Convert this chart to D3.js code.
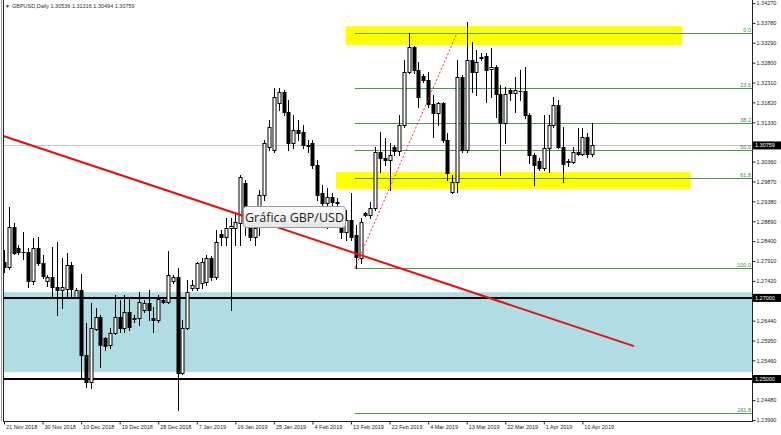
<!DOCTYPE html>
<html><head><meta charset="utf-8">
<script src="https://cdn.jsdelivr.net/npm/d3@7"></script>
<style>body{margin:0;background:#fff}svg{display:block}</style>
</head><body>
<script>
// ---------- DATA ----------
const opens = [1.2788,1.2776,1.2875,1.2823,1.2813,1.2812,1.2742,1.2823,1.2786,1.2742,
1.2752,1.2727,1.2719,1.2722,1.2781,1.2702,1.2719,1.2559,1.2493,1.2623,
1.2653,1.2601,1.2584,1.2613,1.2653,1.2626,1.2665,1.2650,1.2650,1.2670,
1.2687,1.2650,1.2645,1.2695,1.2690,1.2742,1.2752,1.2515,1.2626,1.2724,
1.2724,1.2737,1.2739,1.2798,1.2751,1.2857,1.2850,1.2872,1.2872,1.2885,
1.2983,1.2875,1.2850,1.2875,1.2954,1.3072,1.3065,1.3181,1.3208,1.3158,
1.3082,1.3114,1.3109,1.3077,1.3082,1.3028,1.2959,1.2934,1.2949,1.2936,
1.2897,1.2862,1.2892,1.2855,1.2798,1.2909,1.2904,1.2922,1.3060,1.3045,
1.3040,1.3072,1.3062,1.3126,1.3257,1.3319,1.3262,1.3247,1.3237,1.3178,
1.3156,1.3181,1.3089,1.2961,1.2986,1.3245,1.3065,1.3287,1.3257,1.3294,
1.3296,1.3264,1.3269,1.3203,1.3131,1.3212,1.3205,1.3210,1.3210,1.3151,
1.3052,1.3038,1.3020,1.3070,1.3126,1.3176,1.3072,1.3035,1.3035,1.3060,
1.3055,1.3097,1.30536];
const highs = [1.2818,1.2924,1.2885,1.2830,1.2862,1.2823,1.2848,1.2850,1.2806,1.2756,
1.2825,1.2838,1.2798,1.2811,1.2788,1.2724,1.2759,1.2638,1.2687,1.2675,
1.2658,1.2604,1.2626,1.2707,1.2695,1.2707,1.2700,1.2658,1.2715,1.2695,
1.2719,1.2678,1.2707,1.2700,1.2816,1.2756,1.2774,1.2645,1.2744,1.2744,
1.2788,1.2798,1.2806,1.2803,1.2867,1.2867,1.2897,1.2897,1.2912,1.3003,
1.2991,1.2904,1.2880,1.2966,1.3089,1.3139,1.3217,1.3217,1.3212,1.3188,
1.3151,1.3139,1.3126,1.3089,1.3089,1.3040,1.2978,1.2971,1.2959,1.2946,
1.2912,1.2917,1.2959,1.2880,1.2897,1.2912,1.2936,1.3072,1.3109,1.3094,
1.3082,1.3077,1.3151,1.3287,1.3353,1.3322,1.3282,1.3252,1.3257,1.3200,
1.3183,1.3183,1.3107,1.3003,1.3287,1.3250,1.3380,1.3331,1.3311,1.3304,
1.3304,1.3316,1.3274,1.3225,1.3220,1.3217,1.3245,1.3262,1.3269,1.3156,
1.3057,1.3045,1.3151,1.3151,1.3195,1.3188,1.3121,1.3042,1.3072,1.3119,
1.3119,1.3107,1.31316];
const lows = [1.2764,1.2771,1.2808,1.2808,1.2796,1.2727,1.2734,1.2781,1.2749,1.2729,
1.2700,1.2658,1.2675,1.2702,1.2702,1.2700,1.2505,1.2480,1.2478,1.2621,
1.2530,1.2572,1.2576,1.2611,1.2616,1.2616,1.2621,1.2641,1.2633,1.2665,
1.2645,1.2616,1.2641,1.2687,1.2687,1.2737,1.2424,1.2512,1.2623,1.2719,
1.2719,1.2724,1.2732,1.2744,1.2747,1.2830,1.2830,1.2670,1.2830,1.2830,
1.2855,1.2843,1.2830,1.2855,1.2941,1.3065,1.3060,1.3163,1.3151,1.3065,
1.3070,1.3089,1.3070,1.3060,1.3020,1.2941,1.2929,1.2872,1.2929,1.2926,
1.2848,1.2843,1.2843,1.2774,1.2786,1.2902,1.2897,1.2917,1.3010,1.3028,
1.2966,1.3052,1.3052,1.3121,1.3255,1.3255,1.3171,1.3232,1.3171,1.3097,
1.3126,1.3084,1.2991,1.2959,1.2961,1.3060,1.3060,1.3208,1.3200,1.3287,
1.3183,1.3195,1.3146,1.3003,1.3082,1.3188,1.3158,1.3188,1.3144,1.3033,
1.2978,1.3015,1.3015,1.3010,1.3121,1.3070,1.2986,1.3025,1.3033,1.3052,
1.3052,1.3047,1.30494];
const closes = [1.2776,1.2875,1.2811,1.2813,1.2812,1.2742,1.2823,1.2786,1.2754,1.2752,
1.2727,1.2719,1.2727,1.2781,1.2722,1.2719,1.2559,1.2493,1.2626,1.2653,
1.2584,1.2581,1.2613,1.2653,1.2626,1.2665,1.2628,1.2649,1.2690,1.2687,
1.2670,1.2645,1.2697,1.2690,1.2756,1.2752,1.2515,1.2626,1.2715,1.2732,
1.2786,1.2788,1.2798,1.2751,1.2838,1.2850,1.2872,1.2877,1.2887,1.2998,
1.2909,1.2850,1.2872,1.2954,1.3082,1.3121,1.3195,1.3208,1.3158,1.3082,
1.3114,1.3107,1.3077,1.3074,1.3028,1.2954,1.2934,1.2949,1.2936,1.2934,
1.2862,1.2892,1.2850,1.2801,1.2887,1.2904,1.2922,1.3060,1.3045,1.3040,
1.3052,1.3062,1.3126,1.3257,1.3319,1.3262,1.3195,1.3237,1.3178,1.3156,
1.3181,1.3089,1.3008,1.2986,1.3245,1.3065,1.3287,1.3257,1.3282,1.3292,
1.3262,1.3269,1.3203,1.3131,1.3203,1.3205,1.3212,1.3209,1.3151,1.3052,
1.3028,1.3020,1.3070,1.3126,1.3176,1.3072,1.3030,1.3038,1.3060,1.3055,
1.3097,1.3055,1.30759];

const dateTickBars = [0,8,16,24,32,40,48,56,64,72,80,88,96,104,112,120];
const dateTickLabels = ["21 Nov 2018","30 Nov 2018","10 Dec 2018","19 Dec 2018","28 Dec 2018","7 Jan 2019","16 Jan 2019","25 Jan 2019","4 Feb 2019","13 Feb 2019","22 Feb 2019","4 Mar 2019","13 Mar 2019","22 Mar 2019","1 Apr 2019","10 Apr 2019"];
// visible price labels (the ones hidden behind the black price tags are left out)
const priceTicks = [1.34270,1.33780,1.33290,1.32800,1.32310,1.31820,1.31330,1.30360,1.29870,1.29380,1.28890,1.28400,1.27910,1.27420,1.26440,1.25950,1.25460,1.24480,1.23990];

const title = "GBPUSD,Daily  1.30536 1.31316 1.30494 1.30759";
const lastPrice = 1.30759;
const levelLines = [1.27000, 1.25000];
const blueZone = [1.2714, 1.2517];
const yellowZones = [
  {b0: 70.9, b1: 140.7, p0: 1.3370, p1: 1.3323},
  {b0: 68.9, b1: 142.5, p0: 1.3010, p1: 1.2968}
];
const trendLine = [{bar: -0.83, price: 1.3102}, {bar: 130.7, price: 1.2581}];
const fibLow = {bar: 72.8, price: 1.2774};
const fibHigh = {bar: 94.0, price: 1.3353};
const fibLevels = [0.0, 23.6, 38.2, 50.0, 61.8, 100.0, 161.8];
const noteText = "Gráfica GBP/USD";

// ---------- LAYOUT ----------
const W = 781, H = 435;
const L = 3, R = 752, T = 0, B = 421;
const svg = d3.select("body").append("svg").attr("width", W).attr("height", H);

const x = d3.scaleLinear().domain([0, 122]).range([4, 592]);
const y = d3.scaleLinear().domain([1.2399, 1.3427]).range([420, 3]);
const font = "'Liberation Sans', Arial, sans-serif";

const defs = svg.append("defs");
defs.append("clipPath").attr("id", "clipP")
  .append("rect").attr("x", L).attr("y", T).attr("width", R - L).attr("height", B - T);
const plot = svg.append("g").attr("clip-path", "url(#clipP)");

// blue zone
plot.append("rect").attr("x", L).attr("width", R - L)
  .attr("y", y(blueZone[0])).attr("height", y(blueZone[1]) - y(blueZone[0]))
  .attr("fill", "#b0dde4");

// yellow zones
plot.selectAll(".yz").data(yellowZones).join("rect")
  .attr("x", d => x(d.b0)).attr("width", d => x(d.b1) - x(d.b0))
  .attr("y", d => y(d.p0)).attr("height", d => y(d.p1) - y(d.p0))
  .attr("fill", "#ffff00");

// current price grey line
plot.append("line").attr("x1", L).attr("x2", R)
  .attr("y1", Math.round(y(lastPrice)) + 0.5).attr("y2", Math.round(y(lastPrice)) + 0.5)
  .attr("stroke", "#c8c8c8").attr("stroke-width", 1);

// fib lines
const fibRange = fibHigh.price - fibLow.price;
const fibPrice = lv => fibHigh.price - fibRange * lv / 100;
plot.selectAll(".fib").data(fibLevels).join("line")
  .attr("x1", x(fibLow.bar)).attr("x2", R)
  .attr("y1", d => Math.round(y(fibPrice(d))) + 0.5)
  .attr("y2", d => Math.round(y(fibPrice(d))) + 0.5)
  .attr("stroke", "#4f9a4f").attr("stroke-width", 1);
plot.selectAll(".fibt").data(fibLevels).join("text")
  .attr("x", R - 1).attr("y", d => Math.round(y(fibPrice(d))) - 1)
  .attr("text-anchor", "end").attr("font-family", font).attr("font-size", 5.5)
  .attr("fill", "#3f8a3f").text(d => d.toFixed(1));

// horizontal black levels
plot.selectAll(".lvl").data(levelLines).join("line")
  .attr("x1", L).attr("x2", R)
  .attr("y1", d => Math.round(y(d))).attr("y2", d => Math.round(y(d)))
  .attr("stroke", "#000").attr("stroke-width", 2);

// candles
const idx = d3.range(opens.length);
const cg = plot.append("g");
const cx = i => Math.round(x(i)) + 0.5;
cg.selectAll(".wick").data(idx).join("line")
  .attr("x1", cx).attr("x2", cx)
  .attr("y1", i => Math.round(y(highs[i]))).attr("y2", i => Math.round(y(lows[i])) + 1)
  .attr("stroke", "#000").attr("stroke-width", 1);
cg.selectAll(".body").data(idx).join("rect")
  .attr("x", i => cx(i) - 1.5).attr("width", 3)
  .attr("y", i => Math.round(y(Math.max(opens[i], closes[i]))) + 0.5)
  .attr("height", i => Math.max(0.01, Math.round(y(Math.min(opens[i], closes[i]))) - Math.round(y(Math.max(opens[i], closes[i])))))
  .attr("fill", i => closes[i] >= opens[i] ? "#fff" : "#000")
  .attr("stroke", "#000").attr("stroke-width", 1);

// red trend line
plot.append("line")
  .attr("x1", x(trendLine[0].bar)).attr("y1", y(trendLine[0].price))
  .attr("x2", x(trendLine[1].bar)).attr("y2", y(trendLine[1].price))
  .attr("stroke", "#e8100c").attr("stroke-width", 2);

// fib dotted diagonal
plot.append("line")
  .attr("x1", x(fibLow.bar)).attr("y1", y(fibLow.price))
  .attr("x2", x(fibHigh.bar)).attr("y2", y(fibHigh.price))
  .attr("stroke", "#e8302c").attr("stroke-width", 1).attr("stroke-dasharray", "2,2");

// annotation box
const grad = defs.append("linearGradient").attr("id", "ng")
  .attr("x1", 0).attr("y1", 0).attr("x2", 0).attr("y2", 1);
grad.append("stop").attr("offset", "0%").attr("stop-color", "#fdfdfd");
grad.append("stop").attr("offset", "100%").attr("stop-color", "#e4e5e8");
svg.append("rect").attr("x", 243.5).attr("y", 206.5).attr("width", 102).attr("height", 21)
  .attr("rx", 3).attr("fill", "url(#ng)").attr("stroke", "#9a9a9a");
svg.append("text").attr("x", 294.5).attr("y", 221.5).attr("text-anchor", "middle")
  .attr("font-family", "'Open Sans', 'Noto Sans', sans-serif").attr("font-size", 12.5)
  .attr("fill", "#222").text(noteText);

// frame
svg.append("line").attr("x1", 1.5).attr("x2", 1.5).attr("y1", 0).attr("y2", B).attr("stroke", "#999");
svg.append("line").attr("x1", L + 0.5).attr("x2", L + 0.5).attr("y1", 0).attr("y2", B).attr("stroke", "#222");
svg.append("line").attr("x1", L).attr("x2", R).attr("y1", B + 0.5).attr("y2", B + 0.5).attr("stroke", "#222");
svg.append("line").attr("x1", R + 0.5).attr("x2", R + 0.5).attr("y1", 0).attr("y2", B + 1).attr("stroke", "#222");

// right price axis
const ya = svg.append("g").attr("transform", `translate(${R + 0.5},0)`)
  .call(d3.axisRight(y).tickValues(priceTicks).tickFormat(d3.format(".5f")).tickSize(3).tickPadding(1));
ya.select(".domain").remove();
ya.selectAll("text").attr("font-family", font).attr("font-size", 5.5).attr("fill", "#222");
ya.selectAll("line").attr("stroke", "#222");

// price tag boxes
const tags = [lastPrice, ...levelLines];
const tg = svg.append("g");
tg.selectAll("rect").data(tags).join("rect")
  .attr("x", R + 1).attr("width", 28).attr("y", d => y(d) - 4).attr("height", 8).attr("fill", "#000");
tg.selectAll("text").data(tags).join("text")
  .attr("x", R + 3).attr("y", d => y(d) + 2).attr("font-family", font).attr("font-size", 5.5)
  .attr("fill", "#fff").text(d => d3.format(".5f")(d));

// bottom date axis
const xa = svg.append("g").attr("transform", `translate(0,${B + 0.5})`)
  .call(d3.axisBottom(x).tickValues(dateTickBars).tickFormat((d, i) => dateTickLabels[i]).tickSize(3).tickPadding(1));
xa.select(".domain").remove();
xa.selectAll("text").attr("text-anchor", "start").attr("dx", 1.5)
  .attr("font-family", font).attr("font-size", 5.5).attr("fill", "#222");
xa.selectAll("line").attr("stroke", "#222");

// title
svg.append("text").attr("x", 5).attr("y", 8).attr("font-family", font).attr("font-size", 5)
  .attr("fill", "#333").text("▼");
svg.append("text").attr("x", 12).attr("y", 8).attr("font-family", font).attr("font-size", 5.5)
  .attr("fill", "#333").text(title);
</script>
</body></html>
